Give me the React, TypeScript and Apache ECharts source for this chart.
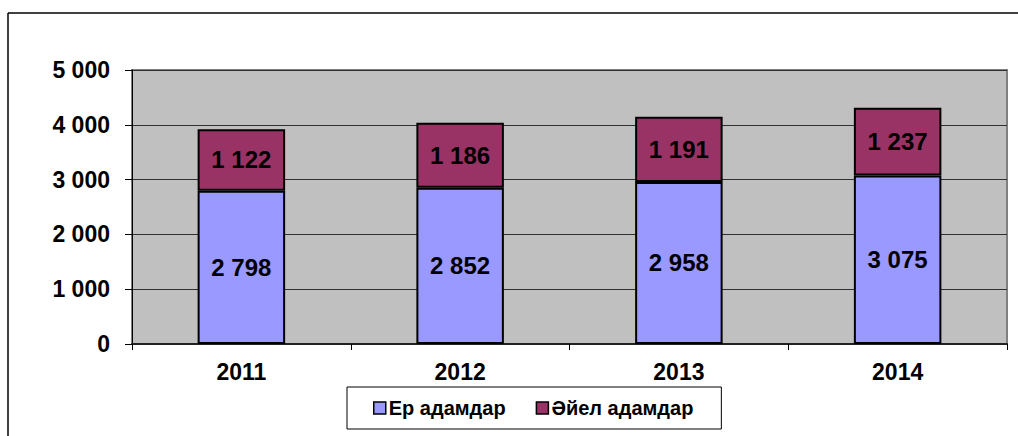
import React, { useEffect, useRef } from "react";
import * as echarts from "echarts";

const categories = ["2011", "2012", "2013", "2014"];
const menValues = [2798, 2852, 2958, 3075];
const womenValues = [1122, 1186, 1191, 1237];
const seriesNames = ["Ер адамдар", "Әйел адамдар"];
const yTicks = { min: 0, max: 5000, interval: 1000 };

const fmt = (v: number) => String(v).replace(/\B(?=(\d{3})+(?!\d))/g, " ");

export default function App() {
  const ref = useRef<HTMLDivElement>(null);
  useEffect(() => {
    if (!ref.current) return;
    const chart = echarts.init(ref.current, undefined, { renderer: "svg" });
    const font = "'Liberation Sans', Arial, sans-serif";
    const labelStyle = {
      show: true,
      position: "inside",
      fontSize: 24,
      fontWeight: "bold",
      color: "#000",
      fontFamily: font,
      formatter: (p: any) => fmt(p.value),
    };
    chart.setOption({
      animation: false,
      textStyle: { fontFamily: font },
      grid: {
        left: 132,
        top: 70,
        right: 11,
        bottom: 92,
        show: true,
        backgroundColor: "#C0C0C0",
        borderColor: "#808080",
        borderWidth: 2,
      },
      graphic: [
        { type: "line", shape: { x1: 8, y1: 13, x2: 1018, y2: 13 }, style: { stroke: "#000", lineWidth: 1.5 } },
        { type: "line", shape: { x1: 8, y1: 13, x2: 8, y2: 436 }, style: { stroke: "#000", lineWidth: 1.5 } },
      ],
      legend: {
        data: seriesNames,
        icon: "rect",
        left: 347,
        top: 387,
        padding: [11, 28, 11, 26],
        borderColor: "#000",
        borderWidth: 1,
        itemWidth: 12,
        itemHeight: 12,
        itemGap: 30,
        itemStyle: { borderColor: "#000", borderWidth: 1.5 },
        textStyle: { fontSize: 20, fontWeight: "bold", color: "#000", fontFamily: font, padding: [0, 0, 0, -2] },
      },
      xAxis: {
        type: "category",
        data: categories,
        axisLine: { show: true, lineStyle: { color: "#222", width: 2 } },
        axisTick: { show: true, length: 6, lineStyle: { color: "#000" } },
        axisLabel: { fontSize: 23, fontWeight: "bold", color: "#000", margin: 16, fontFamily: font },
      },
      yAxis: {
        type: "value",
        min: yTicks.min,
        max: yTicks.max,
        interval: yTicks.interval,
        axisLine: { show: true, lineStyle: { color: "#000", width: 1 } },
        axisTick: { show: true, length: 7, lineStyle: { color: "#000" } },
        splitLine: { show: true, lineStyle: { color: "#303030", width: 1 } },
        axisLabel: {
          fontSize: 23,
          fontWeight: "bold",
          color: "#000",
          margin: 22,
          fontFamily: font,
          formatter: (v: number) => fmt(v),
        },
      },
      series: [
        {
          name: seriesNames[0],
          type: "bar",
          stack: "total",
          data: menValues,
          barWidth: "40%",
          itemStyle: { color: "#9999FF", borderColor: "#000", borderWidth: 2 },
          label: labelStyle,
        },
        {
          name: seriesNames[1],
          type: "bar",
          stack: "total",
          data: womenValues,
          barWidth: "40%",
          itemStyle: { color: "#993366", borderColor: "#000", borderWidth: 2 },
          label: labelStyle,
        },
      ],
    });
    return () => chart.dispose();
  }, []);
  return (
    <div
      ref={ref}
      style={{ position: "absolute", left: 0, top: 0, width: 1018, height: 436, background: "#fff" }}
    />
  );
}
